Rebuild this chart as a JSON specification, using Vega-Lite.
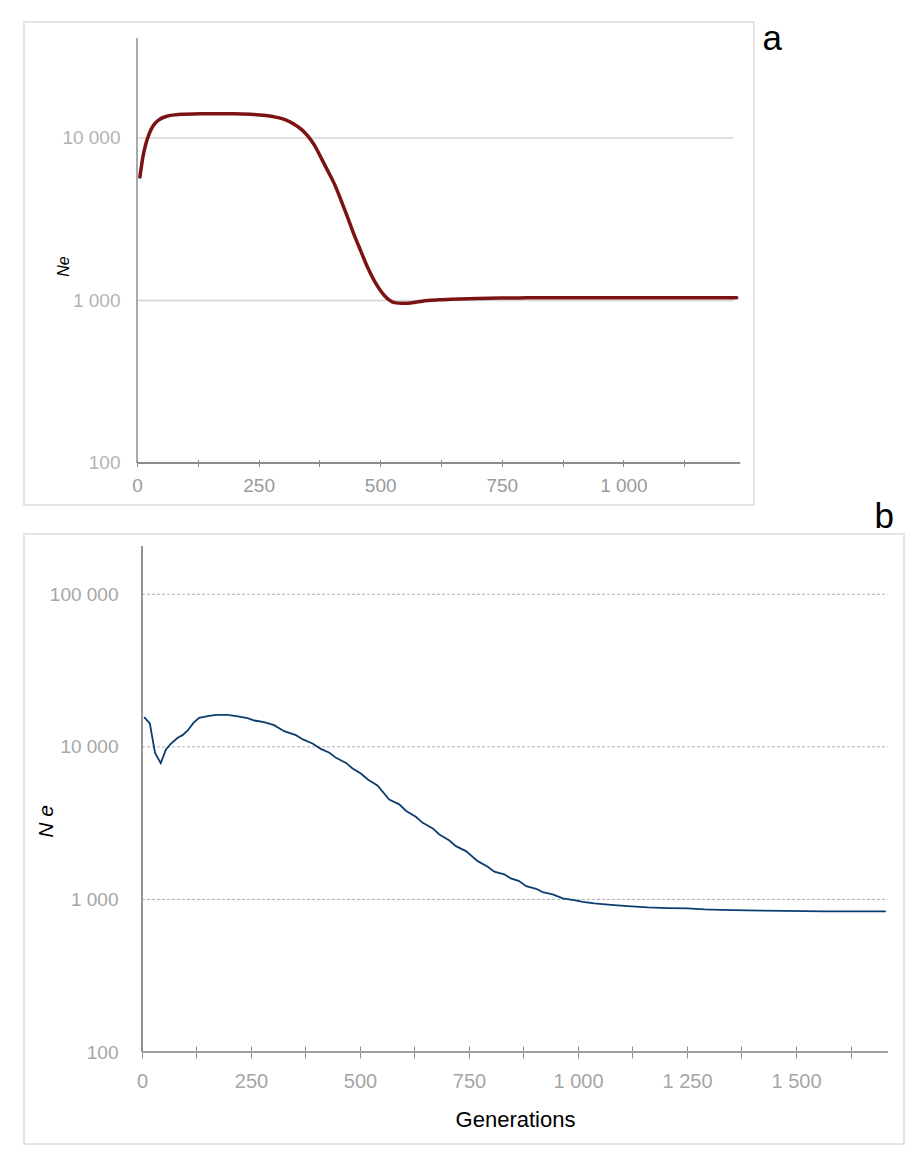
{
  "$schema": "https://vega.github.io/schema/vega-lite/v6.json",
  "padding": {"left": 23, "top": 21, "right": 0, "bottom": 0},
  "background": "white",
  "bounds": "flush",
  "spacing": 29,
  "config": {
    "view": {"stroke": "#dcdcdc", "strokeWidth": 1.5},
    "font": "Liberation Sans"
  },
  "datasets": {
    "a": [
      {"generation": 6, "ne": 5750}, {"generation": 12, "ne": 7600}, {"generation": 18, "ne": 9150},
      {"generation": 24, "ne": 10400}, {"generation": 29, "ne": 11300}, {"generation": 37, "ne": 12300},
      {"generation": 46, "ne": 13000}, {"generation": 63, "ne": 13650}, {"generation": 80, "ne": 13900},
      {"generation": 97, "ne": 14000}, {"generation": 130, "ne": 14100}, {"generation": 166, "ne": 14100},
      {"generation": 200, "ne": 14100}, {"generation": 234, "ne": 14000}, {"generation": 260, "ne": 13800},
      {"generation": 282, "ne": 13500}, {"generation": 303, "ne": 13000}, {"generation": 323, "ne": 12150},
      {"generation": 338, "ne": 11300}, {"generation": 351, "ne": 10300}, {"generation": 365, "ne": 9000},
      {"generation": 378, "ne": 7600}, {"generation": 392, "ne": 6300}, {"generation": 406, "ne": 5200},
      {"generation": 420, "ne": 4100}, {"generation": 433, "ne": 3250}, {"generation": 446, "ne": 2550},
      {"generation": 460, "ne": 2020}, {"generation": 474, "ne": 1600}, {"generation": 488, "ne": 1320},
      {"generation": 499, "ne": 1170}, {"generation": 509, "ne": 1070}, {"generation": 519, "ne": 1005},
      {"generation": 529, "ne": 970}, {"generation": 546, "ne": 960}, {"generation": 557, "ne": 962},
      {"generation": 575, "ne": 978}, {"generation": 598, "ne": 1000}, {"generation": 620, "ne": 1010},
      {"generation": 646, "ne": 1017}, {"generation": 700, "ne": 1030}, {"generation": 748, "ne": 1036},
      {"generation": 800, "ne": 1038}, {"generation": 900, "ne": 1040}, {"generation": 1000, "ne": 1040},
      {"generation": 1100, "ne": 1040}, {"generation": 1233, "ne": 1040}
    ],
    "b": [
      {"generation": 5, "ne": 15650}, {"generation": 18, "ne": 14220}, {"generation": 30, "ne": 9130},
      {"generation": 43, "ne": 7820}, {"generation": 55, "ne": 9610}, {"generation": 66, "ne": 10460},
      {"generation": 82, "ne": 11460}, {"generation": 93, "ne": 11930}, {"generation": 105, "ne": 12800},
      {"generation": 118, "ne": 14360}, {"generation": 131, "ne": 15490}, {"generation": 151, "ne": 15890},
      {"generation": 170, "ne": 16210}, {"generation": 196, "ne": 16210}, {"generation": 212, "ne": 15960},
      {"generation": 220, "ne": 15820}, {"generation": 242, "ne": 15420}, {"generation": 258, "ne": 14880},
      {"generation": 280, "ne": 14500}, {"generation": 303, "ne": 13870}, {"generation": 326, "ne": 12670},
      {"generation": 353, "ne": 11930}, {"generation": 369, "ne": 11180}, {"generation": 391, "ne": 10520},
      {"generation": 410, "ne": 9700}, {"generation": 430, "ne": 9140}, {"generation": 445, "ne": 8470},
      {"generation": 468, "ne": 7850}, {"generation": 483, "ne": 7220}, {"generation": 502, "ne": 6690},
      {"generation": 518, "ne": 6110}, {"generation": 540, "ne": 5580}, {"generation": 567, "ne": 4520},
      {"generation": 590, "ne": 4200}, {"generation": 606, "ne": 3800}, {"generation": 628, "ne": 3480},
      {"generation": 644, "ne": 3175}, {"generation": 667, "ne": 2920}, {"generation": 682, "ne": 2665},
      {"generation": 705, "ne": 2435}, {"generation": 720, "ne": 2235}, {"generation": 743, "ne": 2073},
      {"generation": 770, "ne": 1782}, {"generation": 793, "ne": 1636}, {"generation": 808, "ne": 1519},
      {"generation": 831, "ne": 1460}, {"generation": 846, "ne": 1373}, {"generation": 865, "ne": 1318},
      {"generation": 881, "ne": 1222}, {"generation": 904, "ne": 1174}, {"generation": 919, "ne": 1117},
      {"generation": 942, "ne": 1078}, {"generation": 965, "ne": 1015}, {"generation": 991, "ne": 989},
      {"generation": 1011, "ne": 964}, {"generation": 1037, "ne": 941}, {"generation": 1076, "ne": 922},
      {"generation": 1114, "ne": 904}, {"generation": 1160, "ne": 887}, {"generation": 1206, "ne": 878},
      {"generation": 1251, "ne": 873}, {"generation": 1290, "ne": 860}, {"generation": 1328, "ne": 855},
      {"generation": 1389, "ne": 847}, {"generation": 1473, "ne": 842}, {"generation": 1565, "ne": 834},
      {"generation": 1626, "ne": 834}, {"generation": 1706, "ne": 834}
    ],
    "gridA": [{"level": 1000}, {"level": 10000}],
    "gridB": [{"level": 1000}, {"level": 10000}, {"level": 100000}]
  },
  "vconcat": [
    {
      "width": 730,
      "height": 483,
      "title": {"text": "a", "anchor": "end", "frame": "group", "orient": "top", "offset": 0, "dx": 28, "dy": 63, "baseline": "alphabetic", "fontSize": 35, "fontWeight": "normal", "font": "Liberation Sans", "color": "#000000"},
      "layer": [
        {
          "data": {"name": "gridA"},
          "mark": {"type": "rule", "color": "#d4d4d4", "strokeWidth": 1.5},
          "encoding": {
            "y": {"field": "level", "type": "quantitative", "scale": {"type": "log"}},
            "x": {"datum": 0, "type": "quantitative"},
            "x2": {"datum": 1227}
          }
        },
        {
          "data": {"name": "gridA"},
          "mark": {"type": "rule", "color": "#999999", "strokeWidth": 1.2},
          "encoding": {
            "x": {"datum": 0, "type": "quantitative"},
            "y": {"datum": 100, "type": "quantitative", "scale": {"type": "log"}},
            "y2": {"datum": 41200}
          }
        },
        {
          "data": {"name": "gridA"},
          "mark": {"type": "rule", "color": "#8c8c8c", "strokeWidth": 2},
          "encoding": {
            "y": {"datum": 100, "type": "quantitative", "scale": {"type": "log"}},
            "x": {"datum": 0, "type": "quantitative"},
            "x2": {"datum": 1240}
          }
        },
        {
          "data": {"name": "a"},
          "mark": {"type": "line", "color": "#7b1315", "strokeWidth": 3.5, "interpolate": "monotone", "strokeCap": "round"},
          "encoding": {
            "x": {
              "field": "generation", "type": "quantitative",
              "scale": {"domain": [-232.3, 1268.5], "nice": false, "zero": false},
              "axis": {
                "title": null, "domain": false, "grid": false, "offset": -45.5,
                "values": [0, 62.5, 125, 187.5, 250, 312.5, 375, 437.5, 500, 562.5, 625, 687.5, 750, 812.5, 875, 937.5, 1000, 1062.5, 1125, 1187.5],
                "tickSize": 7, "tickColor": "#8c8c8c", "tickWidth": 1,
                "labelExpr": "datum.value % 250 == 0 ? replace(format(datum.value, ','), ',', ' ') : ''",
                "labelOverlap": false, "labelFlush": false, "labelPadding": 9.5,
                "labelFontSize": 19, "labelColor": "#9a9a9a", "labelFont": "Liberation Sans"
              }
            },
            "y": {
              "field": "ne", "type": "quantitative",
              "scale": {"type": "log", "domain": [55.14, 51740], "nice": false, "zero": false},
              "axis": {
                "title": "Ne", "domain": false, "grid": false, "ticks": false, "offset": -113,
                "values": [100, 1000, 10000],
                "labelExpr": "replace(format(datum.value, ','), ',', ' ')",
                "labelPadding": 17, "labelFontSize": 19, "labelColor": "#b3b3b3", "labelFont": "Liberation Sans",
                "titleFontStyle": "italic", "titleFontWeight": "normal", "titleFontSize": 16, "titleColor": "#000000", "titleFont": "Liberation Sans",
                "titleX": -74, "titleY": 244, "titleAngle": 270, "titleAlign": "center", "titleBaseline": "middle"
              }
            }
          }
        }
      ]
    },
    {
      "width": 880,
      "height": 610,
      "title": {"text": "b", "anchor": "end", "frame": "group", "orient": "top", "offset": 0, "dx": -10, "dy": 29, "baseline": "alphabetic", "fontSize": 35, "fontWeight": "normal", "font": "Liberation Sans", "color": "#000000"},
      "layer": [
        {
          "data": {"name": "gridB"},
          "mark": {"type": "rule", "color": "#b0b0b0", "strokeWidth": 1, "strokeDash": [3, 2]},
          "encoding": {
            "y": {"field": "level", "type": "quantitative", "scale": {"type": "log"}},
            "x": {"datum": 0, "type": "quantitative"},
            "x2": {"datum": 1710}
          }
        },
        {
          "data": {"name": "gridB"},
          "mark": {"type": "rule", "color": "#8c8c8c", "strokeWidth": 1.2},
          "encoding": {
            "x": {"datum": 0, "type": "quantitative"},
            "y": {"datum": 100, "type": "quantitative", "scale": {"type": "log"}},
            "y2": {"datum": 207300}
          }
        },
        {
          "data": {"name": "gridB"},
          "mark": {"type": "rule", "color": "#a0a0a0", "strokeWidth": 2},
          "encoding": {
            "y": {"datum": 100, "type": "quantitative", "scale": {"type": "log"}},
            "x": {"datum": 0, "type": "quantitative"},
            "x2": {"datum": 1710}
          }
        },
        {
          "data": {"name": "b"},
          "mark": {"type": "line", "color": "#0c3d6f", "strokeWidth": 1.8},
          "encoding": {
            "x": {
              "field": "generation", "type": "quantitative",
              "scale": {"domain": [-270.6, 1747.7], "nice": false, "zero": false},
              "axis": {
                "title": "Generations", "domain": false, "grid": false, "offset": -98,
                "values": [0, 125, 250, 375, 500, 625, 750, 875, 1000, 1125, 1250, 1375, 1500, 1625],
                "tickSize": 12, "tickColor": "#8c8c8c", "tickWidth": 1,
                "labelExpr": "datum.value % 250 == 0 ? replace(format(datum.value, ','), ',', ' ') : ''",
                "labelOverlap": false, "labelFlush": false, "labelPadding": 13,
                "labelFontSize": 20, "labelColor": "#a6a6a6", "labelFont": "Liberation Sans",
                "titleFontSize": 22, "titleFontWeight": "normal", "titleColor": "#000000", "titleFont": "Liberation Sans",
                "titleX": 491, "titleY": 80, "titleAlign": "center", "titleBaseline": "alphabetic"
              }
            },
            "y": {
              "field": "ne", "type": "quantitative",
              "scale": {"type": "log", "domain": [24.95, 248300], "nice": false, "zero": false},
              "axis": {
                "title": "N e", "domain": false, "grid": false, "ticks": false, "offset": -118,
                "values": [100, 1000, 10000, 100000],
                "labelExpr": "replace(format(datum.value, ','), ',', ' ')",
                "labelPadding": 24, "labelFontSize": 19, "labelColor": "#a6a6a6", "labelFont": "Liberation Sans",
                "titleFontStyle": "italic", "titleFontWeight": "normal", "titleFontSize": 21, "titleColor": "#000000", "titleFont": "Liberation Sans",
                "titleX": -96, "titleY": 287, "titleAngle": 270, "titleAlign": "center", "titleBaseline": "middle"
              }
            }
          }
        }
      ]
    }
  ]
}
